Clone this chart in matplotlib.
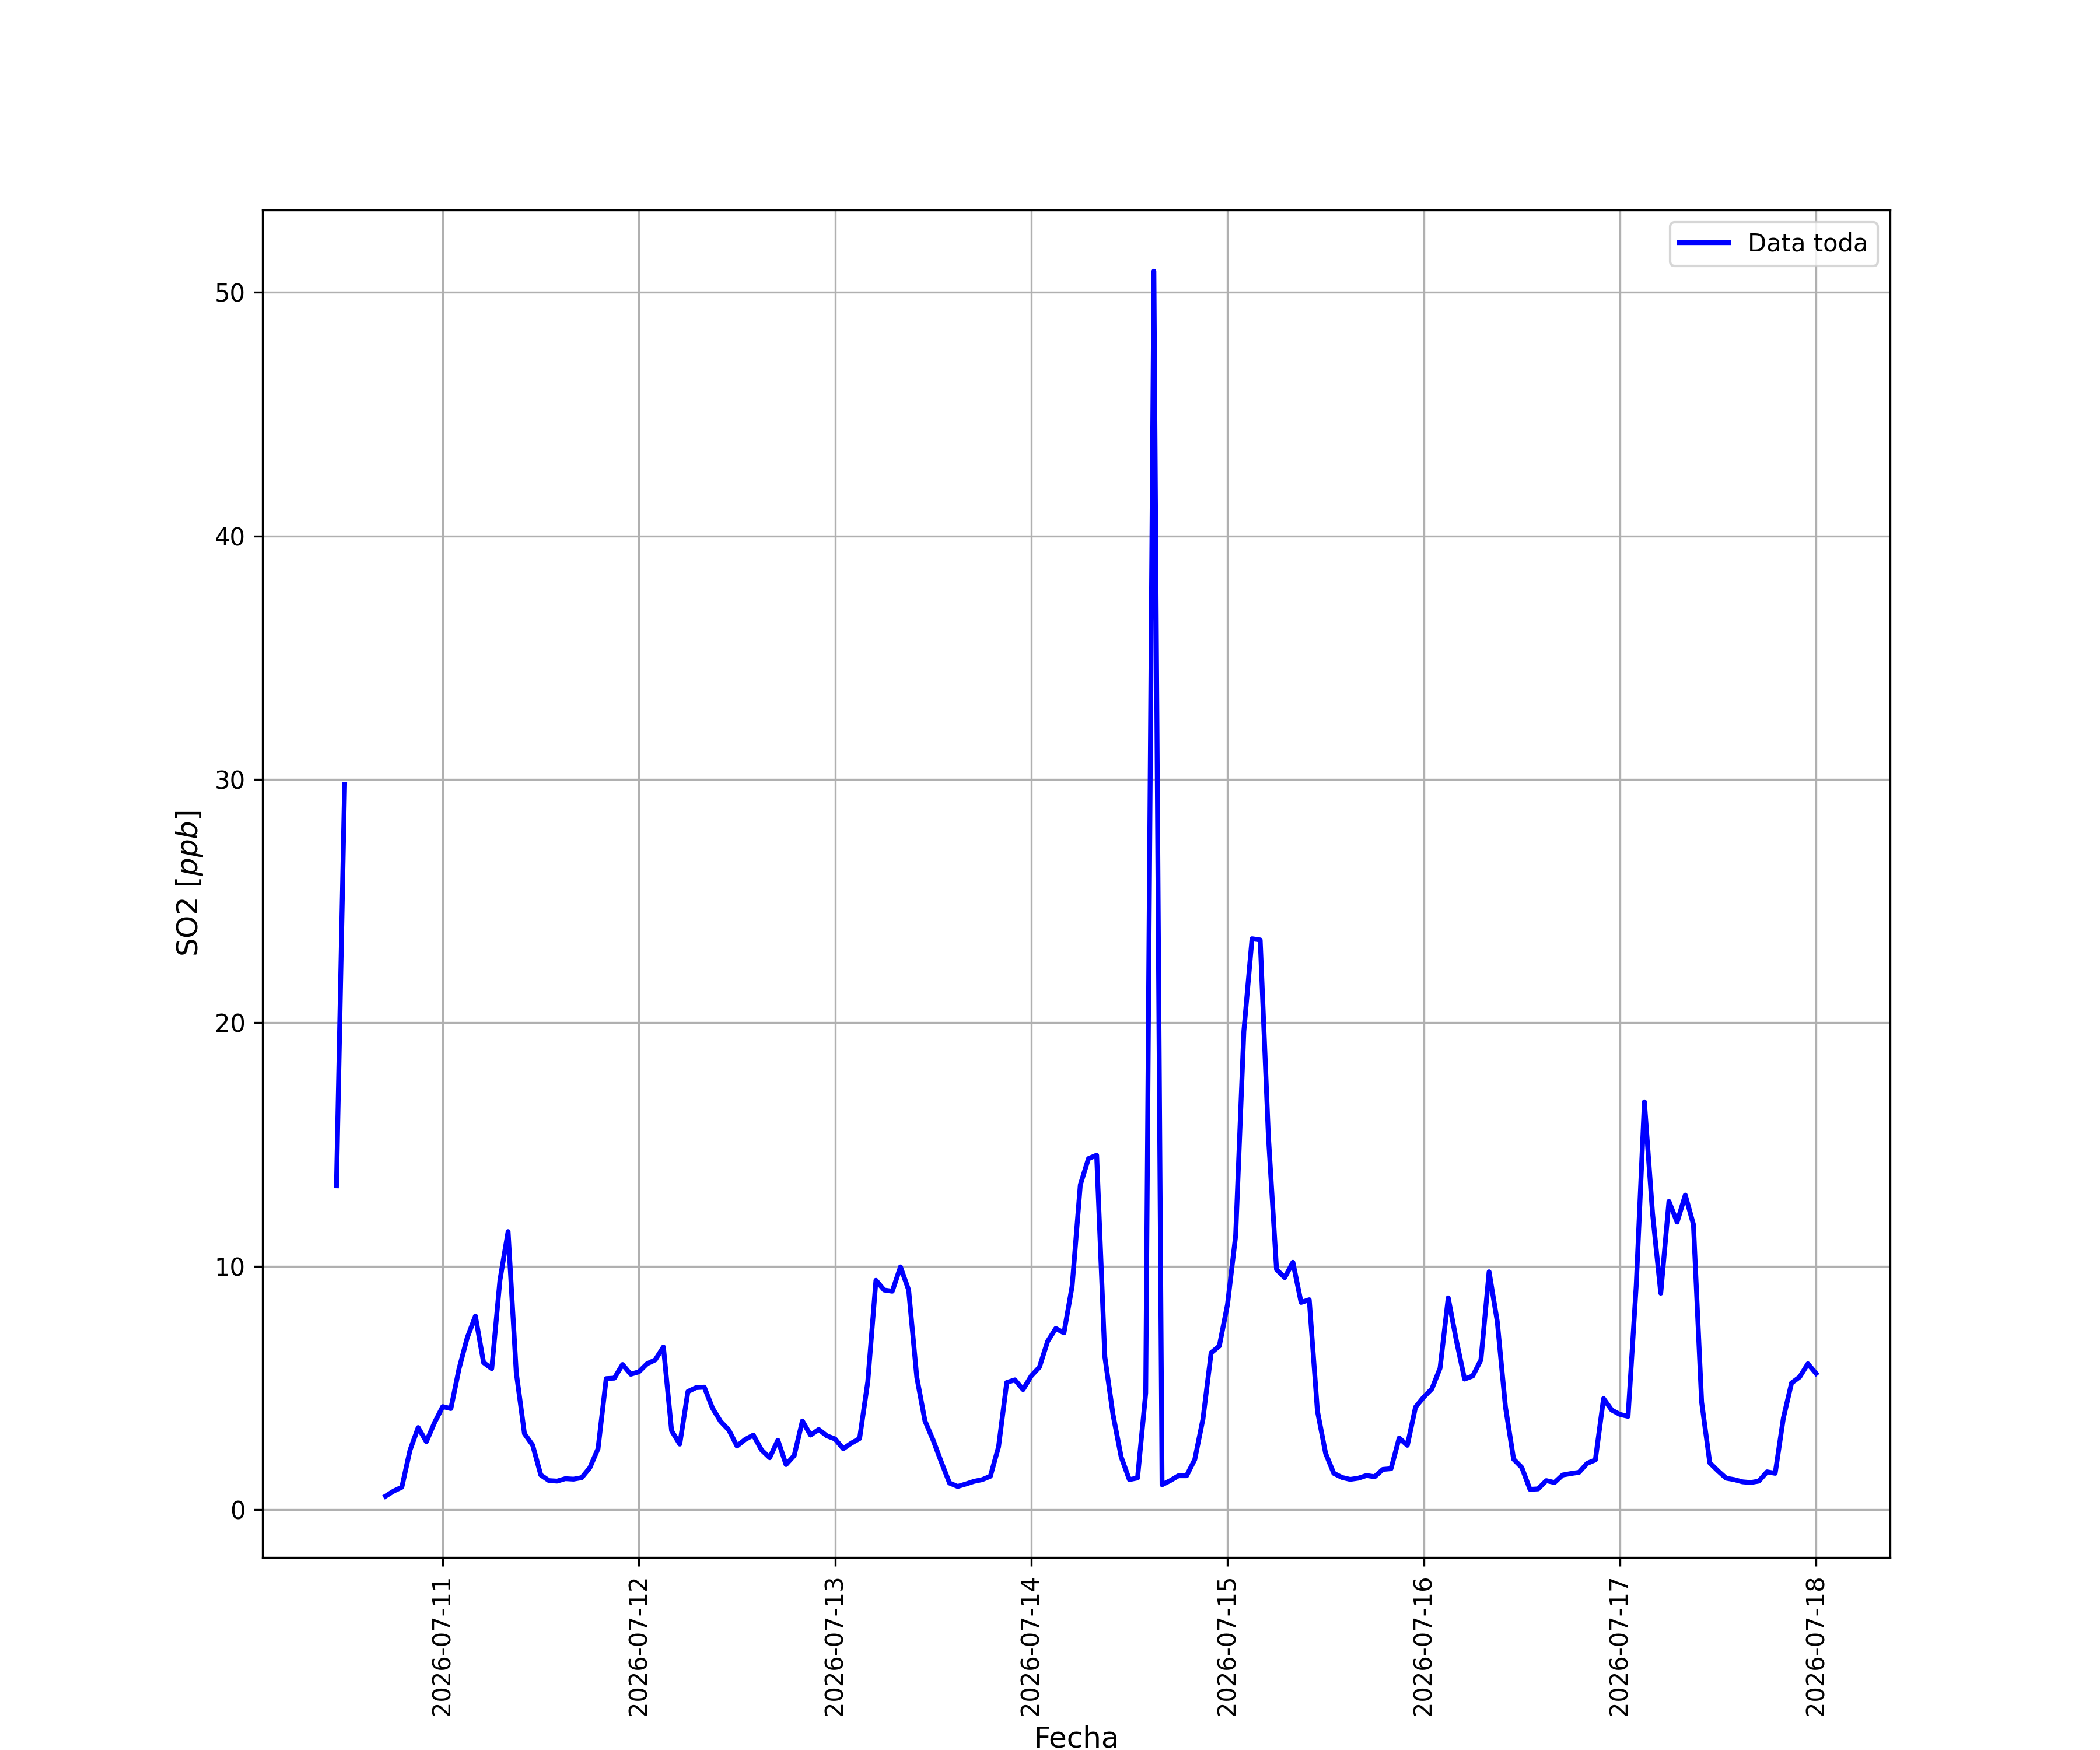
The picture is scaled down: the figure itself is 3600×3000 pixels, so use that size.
import numpy as np
import pandas as pd
import matplotlib
matplotlib.use("Agg")
import matplotlib.pyplot as plt
import matplotlib.dates as mdates

# hourly SO2 readings, first one at 2026-07-10 11:00
nan = np.nan
dia10 = [13.3, 29.8, nan, nan, nan, nan, 0.55, 0.76, 0.92, 2.44, 3.37, 2.79, 3.57]
dia11 = [4.23, 4.15, 5.79, 7.06, 7.95, 6.04, 5.79, 9.42, 11.42, 5.63, 3.12, 2.65,
         1.42, 1.19, 1.17, 1.27, 1.25, 1.31, 1.72, 2.50, 5.38, 5.40, 5.96, 5.56]
dia12 = [5.66, 5.99, 6.15, 6.68, 3.24, 2.69, 4.85, 5.01, 5.03, 4.17, 3.62, 3.27,
         2.61, 2.88, 3.06, 2.45, 2.13, 2.85, 1.85, 2.22, 3.64, 3.06, 3.29, 3.03]
dia13 = [2.90, 2.50, 2.73, 2.92, 5.25, 9.42, 9.02, 8.97, 9.97, 9.02, 5.43, 3.64,
         2.85, 1.95, 1.09, 0.95, 1.05, 1.16, 1.23, 1.37, 2.58, 5.22, 5.33, 4.93]
dia14 = [5.49, 5.85, 6.91, 7.44, 7.26, 9.18, 13.34, 14.42, 14.56, 6.28, 3.90, 2.16,
         1.23, 1.30, 4.79, 50.87, 1.02, 1.19, 1.39, 1.39, 2.06, 3.72, 6.44, 6.72]
dia15 = [8.42, 11.26, 19.65, 23.45, 23.40, 15.36, 9.86, 9.53, 10.16, 8.51, 8.62, 4.05,
         2.31, 1.49, 1.32, 1.24, 1.29, 1.40, 1.35, 1.65, 1.68, 2.94, 2.64, 4.21]
dia16 = [4.62, 4.96, 5.81, 8.70, 6.94, 5.36, 5.49, 6.15, 9.77, 7.73, 4.22, 2.07,
         1.73, 0.83, 0.85, 1.19, 1.11, 1.42, 1.48, 1.53, 1.90, 2.04, 4.56, 4.09]
dia17 = [3.91, 3.83, 9.21, 16.75, 12.15, 8.89, 12.66, 11.81, 12.92, 11.71, 4.42, 1.92,
         1.59, 1.29, 1.23, 1.14, 1.11, 1.17, 1.55, 1.49, 3.76, 5.20, 5.45, 5.99]
dia18 = [5.59]

so2 = dia10 + dia11 + dia12 + dia13 + dia14 + dia15 + dia16 + dia17 + dia18
fechas = pd.date_range("2026-07-10 11:00", periods=len(so2), freq="h")

fig, ax = plt.subplots(figsize=(12, 10))
ax.plot(fechas, so2, color='blue', linewidth=2, label='Data toda')
ax.xaxis.set_major_locator(mdates.DayLocator())
ax.xaxis.set_major_formatter(mdates.DateFormatter('%Y-%m-%d'))
plt.xticks(rotation=90)
ax.set_xlabel('Fecha', fontsize=12)
ax.set_ylabel('SO2 $[ppb]$', fontsize=12)
ax.grid(True)
ax.legend(loc='upper right')

fig.savefig('out.png', dpi=300)
